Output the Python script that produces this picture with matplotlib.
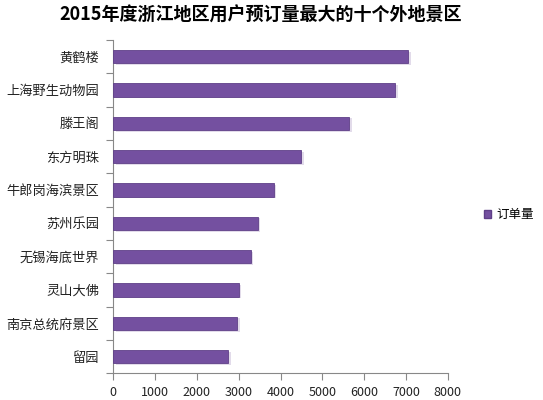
import numpy as np
import matplotlib
matplotlib.use("Agg")
import matplotlib.pyplot as plt
from matplotlib.patches import Patch

plt.rcParams['font.family'] = ['Noto Sans CJK SC', 'DejaVu Sans']

spots = ["黄鹤楼", "上海野生动物园", "滕王阁", "东方明珠", "牛郎岗海滨景区",
         "苏州乐园", "无锡海底世界", "灵山大佛", "南京总统府景区", "留园"]
orders = [7050, 6740, 5650, 4490, 3840, 3460, 3290, 3000, 2960, 2750]
x_ticks = [0, 1000, 2000, 3000, 4000, 5000, 6000, 7000, 8000]

fig = plt.figure(figsize=(5.43, 4.0), dpi=100)
ax = fig.add_axes([0.2087, 0.0667, 0.6158, 0.8333])

pos = np.arange(len(spots))
bars = ax.barh(pos, orders, height=0.4, color="#7450a0", edgecolor="#5f3f88",
               linewidth=0.6, label="订单量", zorder=3)

# soft shadow under each bar
ax.barh(pos + 0.05, orders, height=0.4, left=60, color="#cfc4dd", alpha=0.6,
        zorder=2, linewidth=0)

ax.set_ylim(len(spots) - 0.5, -0.5)
ax.set_xlim(0, 8000)
ax.set_xticks(x_ticks)
ax.set_yticks(pos)
ax.set_yticklabels(spots, fontsize=9.5, color="#222222")
ax.set_yticks(np.arange(-0.5, len(spots), 1.0), minor=True)
ax.tick_params(axis='y', which='major', length=0, pad=10)
ax.tick_params(axis='y', which='minor', length=5, color="#888888", width=0.8)
ax.tick_params(axis='x', length=5, color="#888888", width=0.8, labelsize=9,
               pad=4, labelcolor="#222222")

for side in ["top", "right"]:
    ax.spines[side].set_visible(False)
for side in ["left", "bottom"]:
    ax.spines[side].set_color("#888888")
    ax.spines[side].set_linewidth(0.8)

fig.text(0.48, 0.963, "2015年度浙江地区用户预订量最大的十个外地景区",
         ha="center", va="center", fontsize=13, fontweight="bold")

handle = Patch(facecolor="#7450a0", edgecolor="#5f3f88")
fig.legend([handle], ["订单量"], loc="center left", bbox_to_anchor=(0.87, 0.463),
           frameon=False, fontsize=9, handlelength=0.6, handleheight=0.6,
           handletextpad=0.4)

fig.savefig("out.png", dpi=100)
